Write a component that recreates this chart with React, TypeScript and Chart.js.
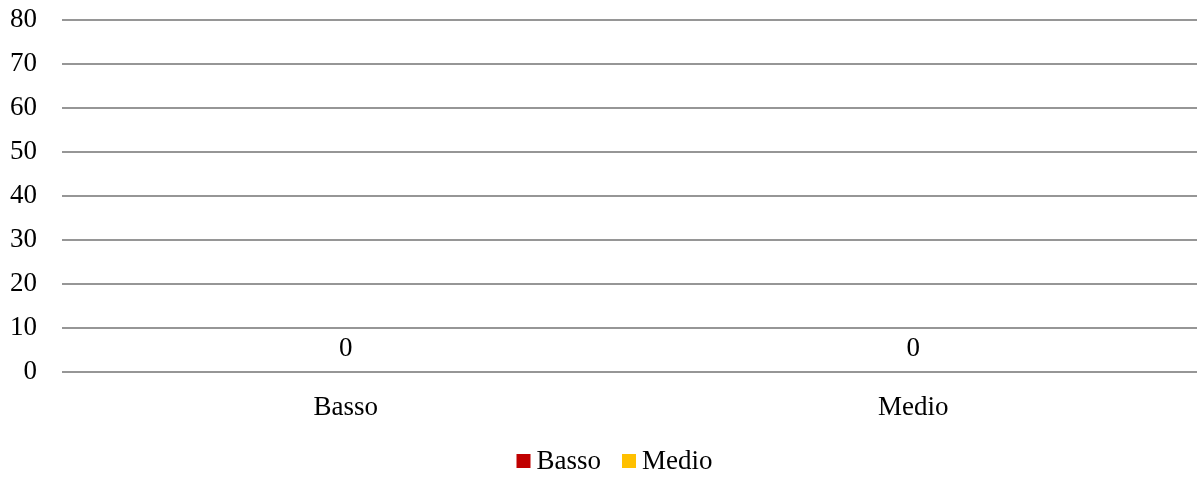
import React, { useEffect, useRef } from "react";
import { Chart, registerables } from "chart.js";

Chart.register(...registerables);

const categories = ["Basso", "Medio"];
const bassoValues = [0, null];
const medioValues = [null, 0];
const yTicks = [0, 10, 20, 30, 40, 50, 60, 70, 80];

const FONT = "'Liberation Serif', 'DejaVu Serif', serif";
const FONT_SIZE = 27;

const dataLabelPlugin = {
  id: "dataLabels",
  afterDatasetsDraw(chart: any) {
    const ctx = chart.ctx;
    ctx.save();
    ctx.font = `${FONT_SIZE}px ${FONT}`;
    ctx.fillStyle = "#000";
    ctx.textAlign = "center";
    ctx.textBaseline = "middle";
    chart.data.datasets.forEach((ds: any, i: number) => {
      const meta = chart.getDatasetMeta(i);
      meta.data.forEach((el: any, j: number) => {
        const v = ds.data[j];
        if (v === null || v === undefined) return;
        ctx.fillText(String(v), el.x, el.y - 23);
      });
    });
    ctx.restore();
  },
};

const legendPlugin = {
  id: "customLegend",
  afterDraw(chart: any) {
    const ctx = chart.ctx;
    ctx.save();
    ctx.font = `${FONT_SIZE}px ${FONT}`;
    ctx.textBaseline = "middle";
    ctx.textAlign = "left";
    const box = 14;
    const gap = 6;
    const itemGap = 21;
    const items = chart.data.datasets.map((ds: any) => ({
      label: ds.label,
      color: ds.backgroundColor,
      w: box + gap + ctx.measureText(ds.label).width,
    }));
    const total = items.reduce((s: number, it: any) => s + it.w, 0) + itemGap * (items.length - 1);
    let x = chart.width / 2 + 16 - total / 2;
    const cy = chart.height - 16;
    items.forEach((it: any) => {
      ctx.fillStyle = it.color;
      ctx.fillRect(x, cy - box / 2, box, box);
      ctx.fillStyle = "#000";
      ctx.fillText(it.label, x + box + gap, cy + 1);
      x += it.w + itemGap;
    });
    ctx.restore();
  },
};

export default function App() {
  const ref = useRef<HTMLCanvasElement>(null);
  useEffect(() => {
    if (!ref.current) return;
    const chart = new Chart(ref.current, {
      type: "bar",
      data: {
        labels: categories,
        datasets: [
          { label: "Basso", data: bassoValues as any, backgroundColor: "#C00000", skipNull: true } as any,
          { label: "Medio", data: medioValues as any, backgroundColor: "#FFC000", skipNull: true } as any,
        ],
      },
      options: {
        animation: false,
        responsive: true,
        maintainAspectRatio: false,
        layout: { padding: { top: 4, right: 0, left: -15, bottom: 41 } },
        scales: {
          x: {
            grid: { display: false },
            border: { display: false },
            ticks: { color: "#000", font: { family: FONT, size: FONT_SIZE }, padding: 12 },
          },
          y: {
            min: 0,
            max: 80,
            afterBuildTicks: (axis: any) => {
              axis.ticks = yTicks.map((v) => ({ value: v }));
            },
            grid: { color: "#969696", lineWidth: 2, drawTicks: false },
            border: { display: false },
            ticks: { color: "#000", font: { family: FONT, size: FONT_SIZE }, padding: 25 },
          },
        },
        plugins: {
          legend: { display: false },
          tooltip: { enabled: false },
        },
      },
      plugins: [dataLabelPlugin, legendPlugin],
    });
    return () => chart.destroy();
  }, []);
  return (
    <div style={{ position: "fixed", left: 0, top: -21, width: 1197, height: 498, background: "#fff" }}>
      <canvas ref={ref} />
    </div>
  );
}
